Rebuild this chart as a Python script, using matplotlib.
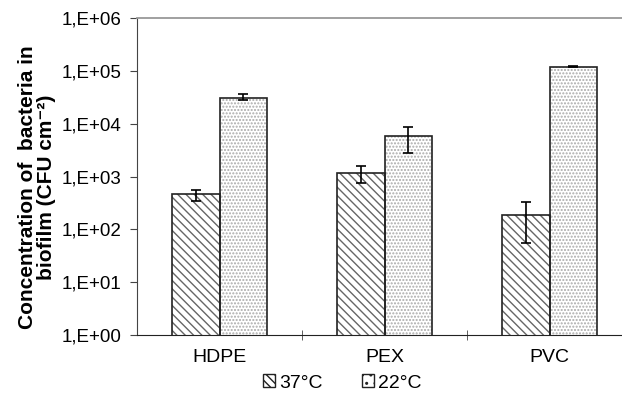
import numpy as np
import matplotlib.pyplot as plt
from matplotlib.patches import Patch

# Dados
materiais = ['HDPE', 'PEX', 'PVC']
temperaturas = ['37°C', '22°C']
media_37 = [460, 1150, 187]
erro_37_baixo = [115, 400, 131]
erro_37_alto = [95, 400, 143]
media_22 = [31000, 5800, 120000]
erro_22_baixo = [3500, 3000, 2500]
erro_22_alto = [6000, 3000, 2500]
ticks_y = [1, 10, 100, 1000, 10000, 100000, 1000000]
rotulos_y = ['1,E+00', '1,E+01', '1,E+02', '1,E+03', '1,E+04', '1,E+05', '1,E+06']

plt.rcParams['font.family'] = ['Liberation Sans', 'DejaVu Sans']
plt.rcParams['hatch.linewidth'] = 1.0

fig = plt.figure(figsize=(6.22, 3.96), dpi=100)
ax = fig.add_axes([0.2203, 0.154, 0.7958, 0.8005])

x = np.arange(len(materiais))
larg = 0.288

# barras: primeiro o padrão (cinza), depois o contorno preto
ax.bar(x - larg / 2, media_37, larg, color='white', edgecolor='#666666',
       hatch='\\\\\\\\', linewidth=0)
ax.bar(x + larg / 2, media_22, larg, color='white', edgecolor='#aaaaaa',
       hatch='.....', linewidth=0)
ax.bar(x - larg / 2, media_37, larg, fill=False, edgecolor='#222222', linewidth=1.2)
ax.bar(x + larg / 2, media_22, larg, fill=False, edgecolor='#222222', linewidth=1.2)

ax.errorbar(x - larg / 2, media_37, yerr=[erro_37_baixo, erro_37_alto], fmt='none',
            ecolor='black', elinewidth=1.2, capsize=3.5, capthick=1.2)
ax.errorbar(x + larg / 2, media_22, yerr=[erro_22_baixo, erro_22_alto], fmt='none',
            ecolor='black', elinewidth=1.2, capsize=3.5, capthick=1.2)

ax.set_yscale('log')
ax.set_ylim(1, 1e6)
ax.set_xlim(-0.5, 2.5)
ax.set_yticks(ticks_y)
ax.set_yticklabels(rotulos_y)
ax.yaxis.set_minor_locator(plt.NullLocator())
ax.set_xticks(x)
ax.set_xticklabels(materiais)
ax.set_xticks([0.5, 1.5], minor=True)
ax.tick_params(axis='x', which='major', length=0, pad=10, labelsize=14)
ax.tick_params(axis='x', which='minor', length=7, direction='inout', color='#444444')
ax.tick_params(axis='y', length=5, color='#444444', labelsize=13.5, pad=6)

ax.spines['top'].set_color('#999999')
ax.spines['top'].set_linewidth(1.3)
ax.spines['right'].set_visible(False)
ax.spines['left'].set_color('#444444')
ax.spines['bottom'].set_color('#222222')

ax.set_ylabel('Concentration of  bacteria in\nbiofilm (CFU cm⁻²)',
              fontsize=15, fontweight='bold', linespacing=1.0)
ax.yaxis.set_label_coords(-0.164, 0.467)

handles = [Patch(facecolor='white', edgecolor='#222222', hatch='\\\\\\\\'),
           Patch(facecolor='white', edgecolor='#222222', hatch='..')]
fig.legend(handles, temperaturas, loc='center', bbox_to_anchor=(0.55, 0.033),
           ncol=2, frameon=False, fontsize=14, handlelength=0.65, handleheight=0.65,
           handletextpad=0.2, columnspacing=2.0)

plt.savefig('out.png', dpi=100)
